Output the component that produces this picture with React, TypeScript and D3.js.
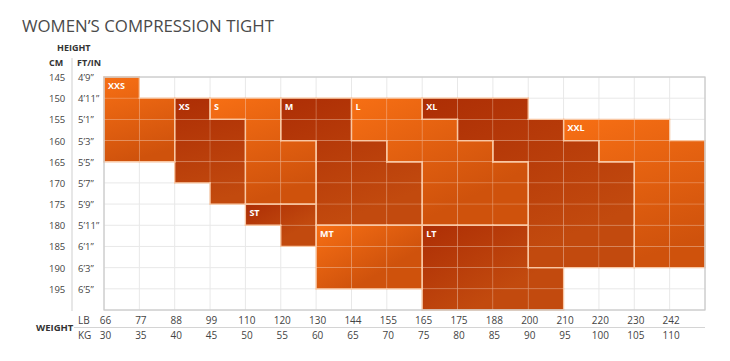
import React from "react";
import * as d3 from "d3";

const title = "WOMEN’S COMPRESSION TIGHT";
const lbTicks = [66, 77, 88, 99, 110, 120, 130, 144, 155, 165, 175, 188, 200, 210, 220, 230, 242];
const kgTicks = [30, 35, 40, 45, 50, 55, 60, 65, 70, 75, 80, 85, 90, 95, 100, 105, 110];
const cmTicks = [145, 150, 155, 160, 165, 170, 175, 180, 185, 190, 195];
const ftTicks = ["4’9”", "4’11”", "5’1”", "5’3”", "5’5”", "5’7”", "5’9”", "5’11”", "6’1”", "6’3”", "6’5”"];

// size regions: each span = [kg column start, cm top, cm bottom]
const sizeNames = ["XXS", "XS", "S", "M", "L", "XL", "XXL", "ST", "MT", "LT"];
const sizeTones = ["light", "dark", "light", "dark", "light", "dark", "light", "dark", "light", "dark"];
const sizeSpans: number[][][] = [
  [[30, 145, 165], [35, 150, 165]],
  [[40, 150, 170], [45, 155, 175]],
  [[45, 150, 155], [50, 150, 175], [55, 160, 175]],
  [[55, 150, 160], [60, 150, 180], [65, 160, 180], [70, 165, 180]],
  [[65, 150, 160], [70, 150, 165], [75, 155, 180], [80, 160, 180], [85, 165, 180]],
  [[75, 150, 155], [80, 150, 160], [85, 150, 165], [90, 155, 190], [95, 160, 190], [100, 165, 190]],
  [[95, 155, 160], [100, 155, 165], [105, 155, 190], [110, 160, 190]],
  [[50, 175, 180], [55, 175, 185]],
  [[60, 180, 195], [65, 180, 195], [70, 180, 195]],
  [[75, 180, 200], [80, 180, 200], [85, 180, 200], [90, 190, 200]],
];

const W = 730;
const H = 361;
const KG_STEP = 5;
const CM_STEP = 5;

export default function App() {
  const x = d3.scaleLinear().domain([30, 115]).range([104, 705]);
  const y = d3.scaleLinear().domain([145, 200]).range([77, 310]);
  const colW = x(35) - x(30);
  const rowH = y(150) - y(145);

  // cell ownership map
  const owner = new Map<string, number>();
  sizeSpans.forEach((spans, si) => {
    spans.forEach(([kg, top, bot]) => {
      for (let cm = top; cm < bot; cm += CM_STEP) owner.set(`${kg},${cm}`, si);
    });
  });

  const cells: { kg: number; cm: number; si: number }[] = [];
  owner.forEach((si, key) => {
    const [kg, cm] = key.split(",").map(Number);
    cells.push({ kg, cm, si });
  });

  // region borders
  const edges: { x1: number; y1: number; x2: number; y2: number }[] = [];
  cells.forEach(({ kg, cm, si }) => {
    const x0 = x(kg), x1 = x(kg + KG_STEP), y0 = y(cm), y1 = y(cm + CM_STEP);
    if (owner.get(`${kg},${cm - CM_STEP}`) !== si) edges.push({ x1: x0, y1: y0, x2: x1, y2: y0 });
    if (owner.get(`${kg},${cm + CM_STEP}`) !== si) edges.push({ x1: x0, y1: y1, x2: x1, y2: y1 });
    if (owner.get(`${kg - KG_STEP},${cm}`) !== si) edges.push({ x1: x0, y1: y0, x2: x0, y2: y1 });
    if (owner.get(`${kg + KG_STEP},${cm}`) !== si) edges.push({ x1: x1, y1: y0, x2: x1, y2: y1 });
  });

  const bounds = sizeSpans.map((spans) => {
    const minKg = d3.min(spans, (s) => s[0])!;
    const maxKg = d3.max(spans, (s) => s[0])! + KG_STEP;
    const minCm = d3.min(spans, (s) => s[1])!;
    const maxCm = d3.max(spans, (s) => s[2])!;
    return { x0: x(minKg), x1: x(maxKg), y0: y(minCm), y1: y(maxCm) };
  });

  const gridCols = d3.range(30, 120, KG_STEP);
  const gridRows = d3.range(145, 205, CM_STEP);
  const font = "'Open Sans', 'DejaVu Sans', sans-serif";

  return (
    <svg width={W} height={H} style={{ position: "absolute", left: 0, top: 0, background: "#fff" }} fontFamily={font}>
      <defs>
        {sizeNames.map((n, i) => {
          const b = bounds[i];
          const light = sizeTones[i] === "light";
          return (
            <linearGradient key={n} id={`g${i}`} gradientUnits="userSpaceOnUse" x1={b.x0} y1={b.y0} x2={b.x0 + (b.x1 - b.x0) * 0.35} y2={b.y1}>
              <stop offset="0%" stopColor={light ? "#f76f14" : "#ad2e05"} />
              <stop offset="100%" stopColor={light ? "#cf520c" : "#c24a0e"} />
            </linearGradient>
          );
        })}
      </defs>

      <text x={22} y={32} fontSize={17} fill="#4a4a4a" textLength={252} lengthAdjust="spacingAndGlyphs">{title}</text>

      {/* grid background lines */}
      {gridCols.map((kg) => (
        <line key={`vc${kg}`} x1={x(kg)} x2={x(kg)} y1={y(145)} y2={y(200)} stroke="#e8e8e8" strokeWidth={1} />
      ))}
      {gridRows.map((cm) => (
        <line key={`hr${cm}`} x1={x(30)} x2={x(115)} y1={y(cm)} y2={y(cm)} stroke="#e8e8e8" strokeWidth={1} />
      ))}

      {/* colored cells */}
      {cells.map(({ kg, cm, si }) => (
        <rect key={`c${kg}-${cm}`} x={x(kg)} y={y(cm)} width={colW} height={rowH} fill={`url(#g${si})`} stroke="rgba(255,210,180,0.22)" strokeWidth={0.8} />
      ))}

      {/* region borders */}
      {edges.map((e, i) => (
        <line key={`e${i}`} {...e} stroke="#f9c7a3" strokeWidth={1.3} strokeLinecap="square" />
      ))}

      {/* outer border */}
      <rect x={x(30)} y={y(145)} width={x(115) - x(30)} height={y(200) - y(145)} fill="none" stroke="#c9c9c9" strokeWidth={1.2} />

      {/* size labels */}
      {sizeNames.map((n, i) => {
        const [kg, top] = sizeSpans[i][0];
        return (
          <text key={`l${n}`} x={x(kg) + 4} y={y(top) + 11.5} fontSize={9} fontWeight={700} fill="#fff">{n}</text>
        );
      })}

      {/* left axis */}
      <text x={57} y={51} fontSize={9} fontWeight={700} fill="#333">HEIGHT</text>
      <text x={49} y={66} fontSize={9} fontWeight={700} fill="#333">CM</text>
      <text x={77} y={66} fontSize={9} fontWeight={700} fill="#333">FT/IN</text>
      <line x1={72} x2={72} y1={58} y2={311} stroke="#cfcfcf" strokeWidth={1} />
      {cmTicks.map((cm, i) => (
        <text key={`cm${cm}`} x={49} y={y(cm) + 4} fontSize={9.5} fill="#444">{cm}</text>
      ))}
      {ftTicks.map((ft, i) => (
        <text key={`ft${i}`} x={78} y={y(cmTicks[i]) + 4} fontSize={9.5} fill="#444">{ft}</text>
      ))}

      {/* bottom axis */}
      <text x={36} y={331} fontSize={9.5} fontWeight={700} fill="#333">WEIGHT</text>
      <text x={78} y={324} fontSize={10} fill="#444">LB</text>
      <text x={78} y={339} fontSize={10} fill="#444">KG</text>
      <line x1={74} x2={705} y1={327.5} y2={327.5} stroke="#d4d4d4" strokeWidth={1} />
      {lbTicks.map((lb, i) => (
        <text key={`lb${lb}`} x={x(kgTicks[i]) + 1.5} y={324} fontSize={10} fill="#444" textAnchor="middle">{lb}</text>
      ))}
      {kgTicks.map((kg) => (
        <text key={`kg${kg}`} x={x(kg) + 1.5} y={339} fontSize={10} fill="#444" textAnchor="middle">{kg}</text>
      ))}
    </svg>
  );
}
